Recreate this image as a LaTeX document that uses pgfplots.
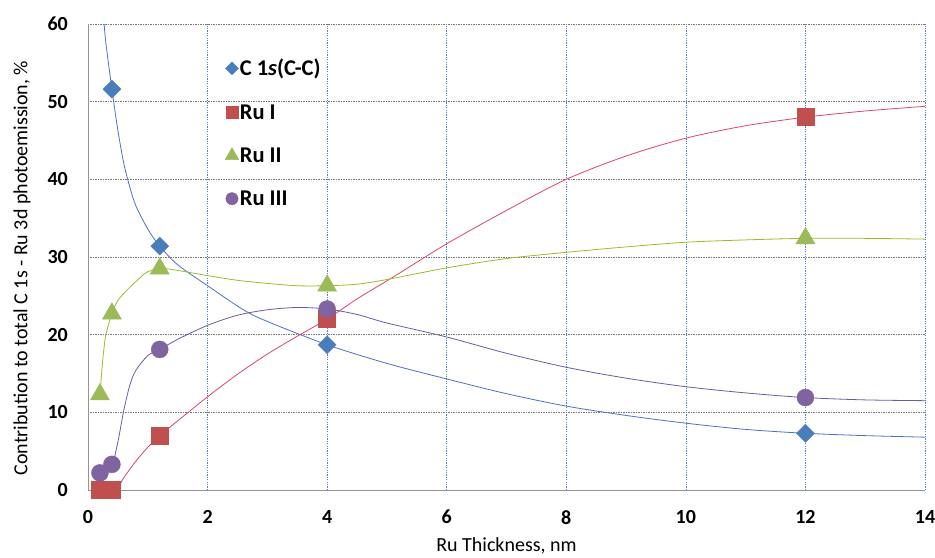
\documentclass[border=0pt]{standalone}
\usepackage{pgfplots}
\pgfplotsset{compat=1.18}
\usepackage{fontspec}
\setmainfont{Carlito}
\definecolor{cblue}{RGB}{74,126,187}
\definecolor{cred}{RGB}{192,80,77}
\definecolor{cgreen}{RGB}{155,187,89}
\definecolor{cpurple}{RGB}{128,100,162}
\definecolor{lblue}{RGB}{80,110,200}
\definecolor{lred}{RGB}{220,70,100}
\definecolor{lgreen}{RGB}{150,190,40}
\definecolor{lpurple}{RGB}{110,90,160}
\definecolor{gridblue}{RGB}{79,129,189}
\definecolor{gridgray}{RGB}{120,120,120}
\begin{document}
\begin{tikzpicture}
\begin{axis}[
  scale only axis, width=837pt, height=466pt,
  xmin=0, xmax=14, ymin=0, ymax=60,
  xtick={0,2,...,14}, ytick={0,10,...,60},
  axis x line*=bottom, axis y line*=left,
  axis line style={draw=gray!85, line width=0.9pt},
  major tick length=0pt,
  grid=major,
  every axis x grid/.append style={draw=gridblue, dash pattern=on 1.2pt off 1.2pt, line width=0.7pt},
  every axis y grid/.append style={draw=gridgray, dash pattern=on 1.5pt off 1pt, line width=0.7pt},
  /pgf/number format/assume math mode=true,
  font=\fontsize{20}{24}\selectfont,
  ticklabel style={font=\fontsize{20}{24}\selectfont\bfseries},
  yticklabel style={anchor=east, inner sep=0pt, xshift=-20pt},
  xticklabel style={anchor=north, inner sep=0pt, yshift=-20pt},
  xlabel={Ru Thickness, nm},
  ylabel={Contribution to total C 1s - Ru 3d photoemission, \%},
  every axis x label/.style={at={(axis description cs:0.5,0)}, yshift=-56pt, anchor=center},
  every axis y label/.style={at={(axis description cs:0,0.5)}, xshift=-66pt, yshift=-11pt, rotate=90, anchor=center},
  legend style={at={(axis cs:2.24,56.0)}, anchor=north west, draw=none, fill=none,
    font=\fontsize{22.5}{27}\selectfont\bfseries, row sep=23pt,
    nodes={inner xsep=1pt}},
  legend cell align=left,
  legend image code/.code={\draw[#1, every mark/.append style={scale=0.72}] plot coordinates {(0.25cm,0cm)};},
]
% fitted curves
\addplot[lblue, line width=0.8pt, smooth, tension=0.5, forget plot] coordinates {
(0.27,60) (0.3,57.5) (0.4,51.6) (0.5,46.3) (0.6,42) (0.7,39) (0.8,36.6) (1.0,33.6) (1.2,31.4) (1.5,29) (2,26.3) (2.6,23.2) (3,21.7) (4,18.7) (5,16.3) (6,14.3) (7,12.4) (8,10.8) (9,9.6) (10,8.6) (11,7.8) (12,7.3) (13,7.0) (14,6.8)};
\addplot[lred, line width=0.8pt, smooth, tension=0.5, forget plot] coordinates {
(0.5,0) (0.55,0.9) (0.6,1.6) (0.8,3.7) (1.0,5.5) (1.2,7) (1.5,8.9) (2,12) (2.5,14.9) (3,17.5) (3.5,19.8) (4,22) (4.5,24.6) (5.1,27.4) (6,31.7) (7,36) (8,40) (9,43) (10,45.3) (11,46.9) (12,48) (13,48.8) (14,49.4)};
\addplot[lgreen, line width=0.8pt, smooth, tension=0.5, forget plot] coordinates {
(0.2,12.3) (0.25,17) (0.3,20) (0.4,22.7) (0.5,24.4) (0.66,25.8) (0.88,27.4) (1.0,28.1) (1.2,28.5) (1.4,28.4) (2,27.6) (2.5,27) (3,26.6) (3.5,26.3) (4,26.3) (4.5,26.5) (5,27.1) (6,28.6) (7,29.8) (8,30.6) (9,31.3) (10,31.9) (11,32.2) (12,32.4) (13,32.4) (14,32.3)};
\addplot[lpurple, line width=0.8pt, smooth, tension=0.5, forget plot] coordinates {
(0.2,2.2) (0.4,3.3) (0.5,6.2) (0.6,10.3) (0.7,13.5) (0.8,15.4) (1.0,17.3) (1.2,18.1) (1.5,19.4) (2,21.2) (2.5,22.5) (3,23.2) (3.5,23.5) (4,23.3) (4.5,22.6) (5,21.5) (6,19.7) (7,17.6) (8,15.8) (9,14.4) (10,13.3) (11,12.5) (12,11.9) (13,11.6) (14,11.5)};
% data points
\addplot[only marks, mark=square*, mark size=6.4pt, mark options={rotate=45, fill=cblue, draw=cblue}] coordinates {
(0.4,51.6) (1.2,31.4) (4,18.7) (12,7.3)};
\addlegendentry{C 1\textit{s}(C-C)}
\addplot[only marks, mark=square*, mark size=8.5pt, mark options={fill=cred, draw=cred}] coordinates {
(0.2,0) (0.4,0) (1.2,7) (4,22) (12,48)};
\addlegendentry{Ru I}
\addplot[only marks, mark=triangle*, mark size=11pt, mark options={fill=cgreen, draw=cgreen}] coordinates {
(0.2,12.3) (0.4,22.7) (1.2,28.5) (4,26.3) (12,32.4)};
\addlegendentry{Ru II}
\addplot[only marks, mark=*, mark size=8.5pt, mark options={fill=cpurple, draw=cpurple}] coordinates {
(0.2,2.2) (0.4,3.3) (1.2,18.1) (4,23.3) (12,11.9)};
\addlegendentry{Ru III}
\end{axis}
\pgfresetboundingbox
\path[use as bounding box] ([xshift=-88pt,yshift=-68pt]current axis.south west) rectangle ([xshift=10pt,yshift=24pt]current axis.north east);
\end{tikzpicture}
\end{document}
